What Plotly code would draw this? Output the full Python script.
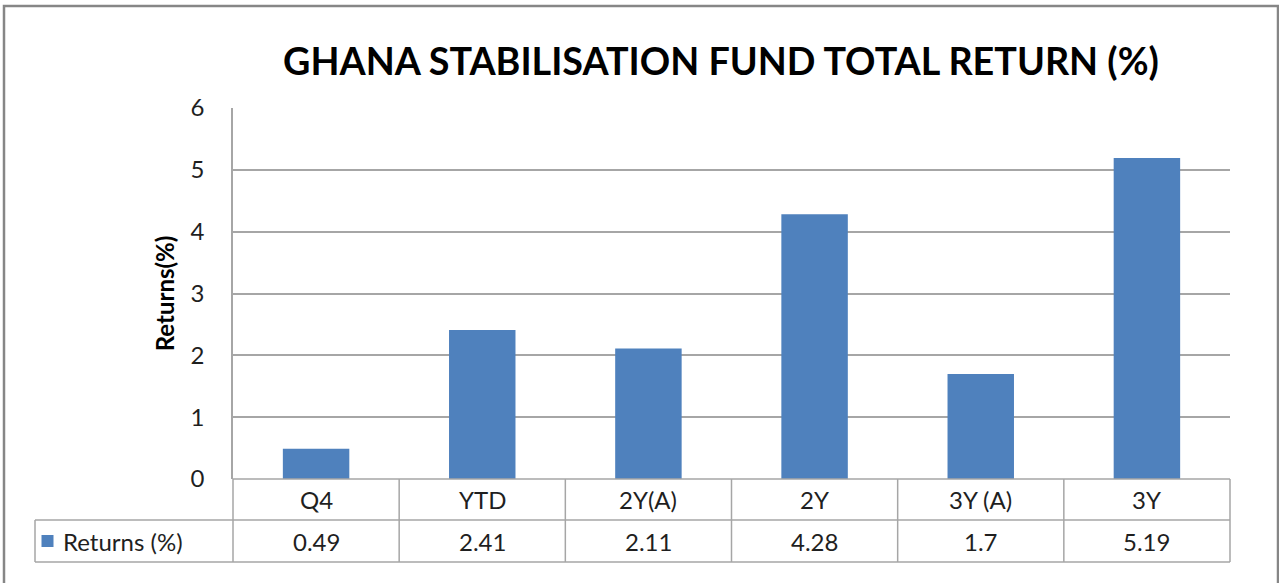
import plotly.graph_objects as go

categories = ["Q4", "YTD", "2Y(A)", "2Y", "3Y (A)", "3Y"]
returns = [0.49, 2.41, 2.11, 4.28, 1.7, 5.19]
value_labels = ["0.49", "2.41", "2.11", "4.28", "1.7", "5.19"]
series_name = "Returns (%)"
title_text = "GHANA STABILISATION FUND TOTAL RETURN (%)"
y_title = "Returns(%)"
y_ticks = [0, 1, 2, 3, 4, 5, 6]

BAR = "#4F81BD"
GRID = "#A6A6A6"
FONT = "Lato, Carlito, Calibri, sans-serif"
TXT = "#1F1F1F"

W, H = 1279, 583
ML, MR, MT, MB = 233, 49, 108, 104
plot_w = W - ML - MR
plot_h = H - MT - MB

fig = go.Figure()
fig.add_trace(go.Bar(x=categories, y=returns, marker=dict(color=BAR, line=dict(width=0)),
                     width=0.4, name=series_name, showlegend=False))

# table geometry (domain coordinates relative to plot area)
row1_bot = -(520 - 479) / plot_h
row2_bot = -(562 - 479) / plot_h
left_x = -(233 - 35) / plot_w
n = len(categories)
shapes = []
line = dict(color=GRID, width=1.5)
shapes.append(dict(type="line", xref="x domain", yref="y domain", x0=0, x1=1, y0=0, y1=0, line=line))
shapes.append(dict(type="line", xref="x domain", yref="y domain", x0=left_x, x1=1, y0=row1_bot, y1=row1_bot, line=line))
shapes.append(dict(type="line", xref="x domain", yref="y domain", x0=left_x, x1=1, y0=row2_bot, y1=row2_bot, line=line))
for i in range(n + 1):
    shapes.append(dict(type="line", xref="x domain", yref="y domain", x0=i / n, x1=i / n,
                       y0=row2_bot, y1=0, line=line))
shapes.append(dict(type="line", xref="x domain", yref="y domain", x0=left_x, x1=left_x,
                   y0=row2_bot, y1=row1_bot, line=line))
# legend key
key_cx = -(233 - 47.5) / plot_w
key_cy = (row1_bot + row2_bot) / 2
kw = 12 / plot_w
kh = 12 / plot_h
shapes.append(dict(type="rect", xref="x domain", yref="y domain", x0=key_cx - kw / 2, x1=key_cx + kw / 2,
                   y0=key_cy - kh / 2, y1=key_cy + kh / 2, fillcolor=BAR, line=dict(width=0)))
# outer chart border
shapes.append(dict(type="rect", xref="paper", yref="paper",
                   x0=-(ML - 4) / plot_w, x1=1 + (W - 1 - ML - plot_w) / plot_w,
                   y0=-(MB + 20) / plot_h, y1=1 + (MT - 6) / plot_h,
                   line=dict(color="#868686", width=2.5)))

annotations = []
for cat, lab in zip(categories, value_labels):
    annotations.append(dict(x=cat, xref="x", y=row1_bot / 2, yref="y domain", text=cat, showarrow=False,
                            font=dict(family=FONT, size=24, color=TXT), xanchor="center", yanchor="middle"))
    annotations.append(dict(x=cat, xref="x", y=(row1_bot + row2_bot) / 2, yref="y domain", text=lab,
                            showarrow=False, font=dict(family=FONT, size=24, color=TXT),
                            xanchor="center", yanchor="middle"))
annotations.append(dict(x=-(233 - 61) / plot_w, xref="x domain", y=(row1_bot + row2_bot) / 2, yref="y domain",
                        text=series_name, showarrow=False, xanchor="left", yanchor="middle",
                        font=dict(family=FONT, size=24, color=TXT)))

fig.update_layout(
    width=W, height=H,
    margin=dict(l=ML, r=MR, t=MT, b=MB),
    paper_bgcolor="white", plot_bgcolor="white",
    title=dict(text="<b>" + title_text + "</b>", x=721 / W, xanchor="center", y=1 - 62 / H, yanchor="middle",
               font=dict(family=FONT, size=37.7, color="black")),
    xaxis=dict(showticklabels=False, showgrid=False, zeroline=False, showline=False, ticks="",
               range=[-0.5, n - 0.5]),
    yaxis=dict(range=[0, 6], tickvals=y_ticks, showgrid=True, gridcolor=GRID, gridwidth=1.5,
               zeroline=False, showline=True, linecolor=GRID, linewidth=1.5, ticks="",
               ticklabelstandoff=22, tickfont=dict(family=FONT, size=24, color=TXT),
               title=dict(text="<b>" + y_title + "</b>", standoff=9,
                          font=dict(family=FONT, size=24, color="black"))),
    shapes=shapes, annotations=annotations,
)

fig.write_html("out.html", config={"displayModeBar": False},
               post_script="document.body.style.margin='0';document.body.style.overflow='hidden';")
